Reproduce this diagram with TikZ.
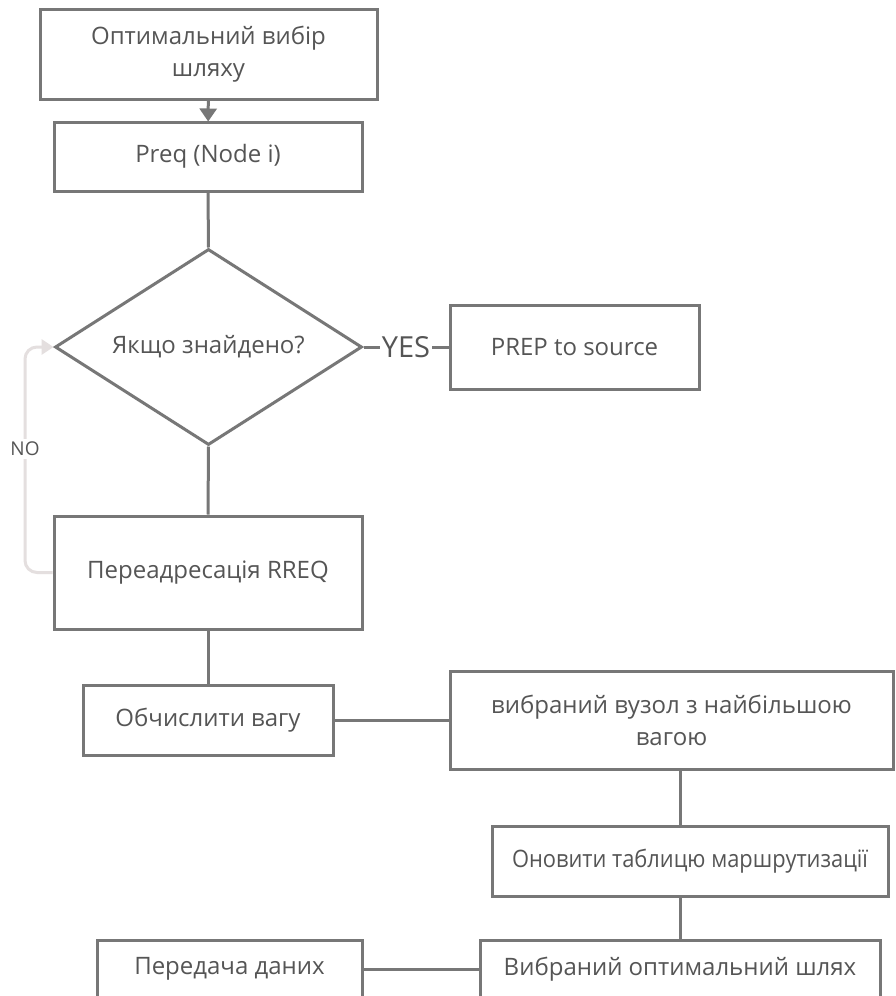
\documentclass[tikz,border=0pt]{standalone}
\usepackage{fontspec}
\usepackage{graphicx}
\setmainfont{Open Sans}
\usetikzlibrary{shapes.geometric,arrows.meta}
\definecolor{edge}{HTML}{777777}
\definecolor{ink}{HTML}{555555}
\definecolor{faint}{HTML}{E4DFDF}
\tikzset{
  box/.style={draw=edge, line width=3pt, rectangle, text=ink, inner sep=0pt,
    align=center, font=\fontsize{24}{32}\selectfont},
  link/.style={draw=edge, line width=3pt},
  decision/.style={draw=edge, line width=3pt, diamond, aspect=1.57, inner sep=0pt,
    text=ink, font=\fontsize{24}{32}\selectfont}
}
\begin{document}
\begin{tikzpicture}[x=1pt,y=-1pt]
\clip (0,0) rectangle (895,996);
\fill[white] (0,0) rectangle (895,996);

\node[box, minimum width=337pt, minimum height=90pt] (start) at (208.5,54) {Оптимальний вибір\\шляху};
\node[box, minimum width=308pt, minimum height=69pt] (preq) at (208,156.5) {Preq (Node i)};
\node[decision, minimum width=307pt, minimum height=196pt] (found) at (208.5,347) {Якщо знайдено?};
\node[box, minimum width=249pt, minimum height=84pt] (prep) at (574.5,347) {PREP to source};
\node[box, minimum width=308pt, minimum height=113pt] (rreq) at (208,572.5) {Переадресація RREQ};
\node[box, minimum width=250pt, minimum height=70pt] (calc) at (208,720) {Обчислити вагу};
\node[box, minimum width=443pt, minimum height=98pt] (sel) at (671.5,720) {вибраний вузол з найбільшою\\вагою};
\node[box, minimum width=396pt, minimum height=70pt] (upd) at (690,861) {\scalebox{0.91}[1]{Оновити таблицю маршрутизації}};
\node[box, minimum width=400pt, minimum height=58pt] (opt) at (680,969) {Вибраний оптимальний шлях};
\node[box, minimum width=265pt, minimum height=58pt] (data) at (229.5,969) {Передача даних};

\coordinate (noline) at (25,0);

\draw[link, -{Triangle[width=17pt,length=13pt]}, shorten >=-1pt] (start) -- (preq);
\draw[link] (preq.south) -- (found.north);
\draw[link] (found.east) -- node[fill=white, text=ink, inner sep=2pt,
  font=\fontsize{29}{32}\selectfont] {YES} (prep.west);
\draw[link] (found.south) -- (rreq.north);
\draw[link] (rreq.south) -- (calc.north);
\draw[link] (calc.east) -- (sel.west);
\draw[link] (sel.south -| opt.north) -- (upd.north -| opt.north);
\draw[link] (upd.south -| opt.north) -- (opt.north);
\draw[link] (data.east) -- (opt.west);

\draw[draw=faint, line width=3pt, rounded corners=12pt, -{Triangle[width=15pt,length=12pt]}]
  (rreq.west) -| (noline |- found.west) -- (found.west);
\node[fill=white, text=ink, inner sep=3pt, font=\fontsize{19}{22}\selectfont] (no) at (25,449) {NO};
\end{tikzpicture}
\end{document}
